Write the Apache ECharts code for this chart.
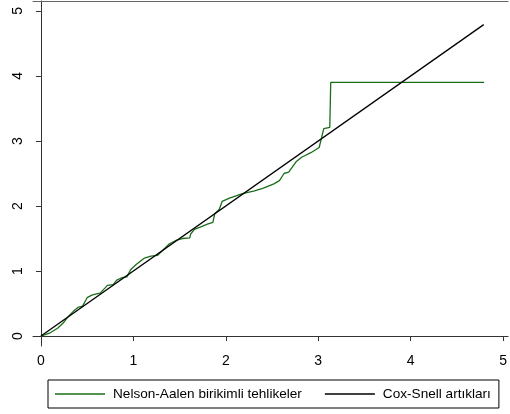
<!DOCTYPE html>
<html>
<head>
<meta charset="utf-8">
<script src="https://cdn.jsdelivr.net/npm/echarts@6/dist/echarts.min.js"></script>
<style>
  html, body { margin: 0; padding: 0; background: #fff; }
  #chart { width: 510px; height: 414px; }
</style>
</head>
<body>
<div id="chart"></div>
<script>
// Cox-Snell residuals (x) vs Nelson-Aalen cumulative hazard (y)
const nelsonAalen = [
  [0, 0], [0.1, 0.05], [0.18, 0.12], [0.24, 0.2], [0.29, 0.29], [0.35, 0.38],
  [0.4, 0.44], [0.45, 0.46], [0.5, 0.59], [0.55, 0.63], [0.6, 0.65], [0.64, 0.66],
  [0.72, 0.78], [0.78, 0.79], [0.82, 0.86], [0.88, 0.9], [0.93, 0.91], [0.97, 1.02],
  [1.03, 1.1], [1.12, 1.2], [1.19, 1.23], [1.26, 1.24], [1.34, 1.35], [1.39, 1.42],
  [1.46, 1.47], [1.53, 1.5], [1.61, 1.51], [1.62, 1.57], [1.66, 1.64], [1.73, 1.68],
  [1.8, 1.72], [1.86, 1.75], [1.88, 1.88], [1.93, 1.95], [1.96, 2.07], [2.04, 2.12],
  [2.18, 2.19], [2.3, 2.23], [2.4, 2.27], [2.52, 2.34], [2.58, 2.39], [2.63, 2.5],
  [2.68, 2.52], [2.76, 2.68], [2.82, 2.75], [2.92, 2.82], [3.01, 2.9], [3.03, 2.93],
  [3.06, 3.19], [3.125, 3.21], [3.135, 3.9], [4.795, 3.9]
]
const coxSnell = [[0, 0], [4.79, 4.79]]
const tickValues = [0, 1, 2, 3, 4, 5]
const seriesNames = ['Nelson-Aalen birikimli tehlikeler', 'Cox-Snell artıkları']

const font = 'Liberation Sans, Arial, sans-serif'
const axisColor = '#333'

const chart = echarts.init(document.getElementById('chart'))

chart.setOption({
  backgroundColor: '#fff',
  animation: false,
  textStyle: { fontFamily: font },
  grid: { left: 33, right: 0, top: 1, bottom: 68 },
  legend: {
    data: seriesNames,
    left: 48,
    top: 380,
    padding: [7, 8, 7, 7],
    borderColor: '#000',
    borderWidth: 1,
    borderRadius: 0,
    itemGap: 23,
    itemWidth: 50,
    itemHeight: 1.5,
    icon: 'rect',
    selectedMode: false,
    textStyle: { fontSize: 13.6, color: '#000', fontFamily: font, padding: [0, 0, 0, 3] }
  },
  xAxis: [
    {
      type: 'value',
      min: -0.086,
      max: 5.054,
      splitLine: { show: false },
      axisLine: { lineStyle: { color: axisColor, width: 1 } },
      axisTick: { customValues: tickValues, length: 5, lineStyle: { color: axisColor } },
      axisLabel: { customValues: tickValues, margin: 8, fontSize: 14, color: '#000', fontFamily: font }
    },
    {
      type: 'value',
      position: 'top',
      min: -0.086,
      max: 5.054,
      splitLine: { show: false },
      axisLine: { show: true, lineStyle: { color: '#666', width: 1 } },
      axisTick: { show: false },
      axisLabel: { show: false }
    }
  ],
  yAxis: {
    type: 'value',
    min: -0.153,
    max: 5.153,
    splitLine: { show: false },
    axisLine: { show: true, lineStyle: { color: axisColor, width: 1 } },
    axisTick: { show: true, customValues: tickValues, length: 5, lineStyle: { color: axisColor } },
    axisLabel: { customValues: tickValues, rotate: 90, margin: 8, fontSize: 14, color: '#000', fontFamily: font }
  },
  series: [
    {
      name: seriesNames[0],
      type: 'line',
      data: nelsonAalen,
      symbol: 'none',
      lineStyle: { color: '#1a6e1a', width: 1.3 },
      itemStyle: { color: '#1a6e1a' }
    },
    {
      name: seriesNames[1],
      type: 'line',
      data: coxSnell,
      symbol: 'none',
      lineStyle: { color: '#000', width: 1.3 },
      itemStyle: { color: '#000' }
    }
  ]
})
</script>
</body>
</html>
